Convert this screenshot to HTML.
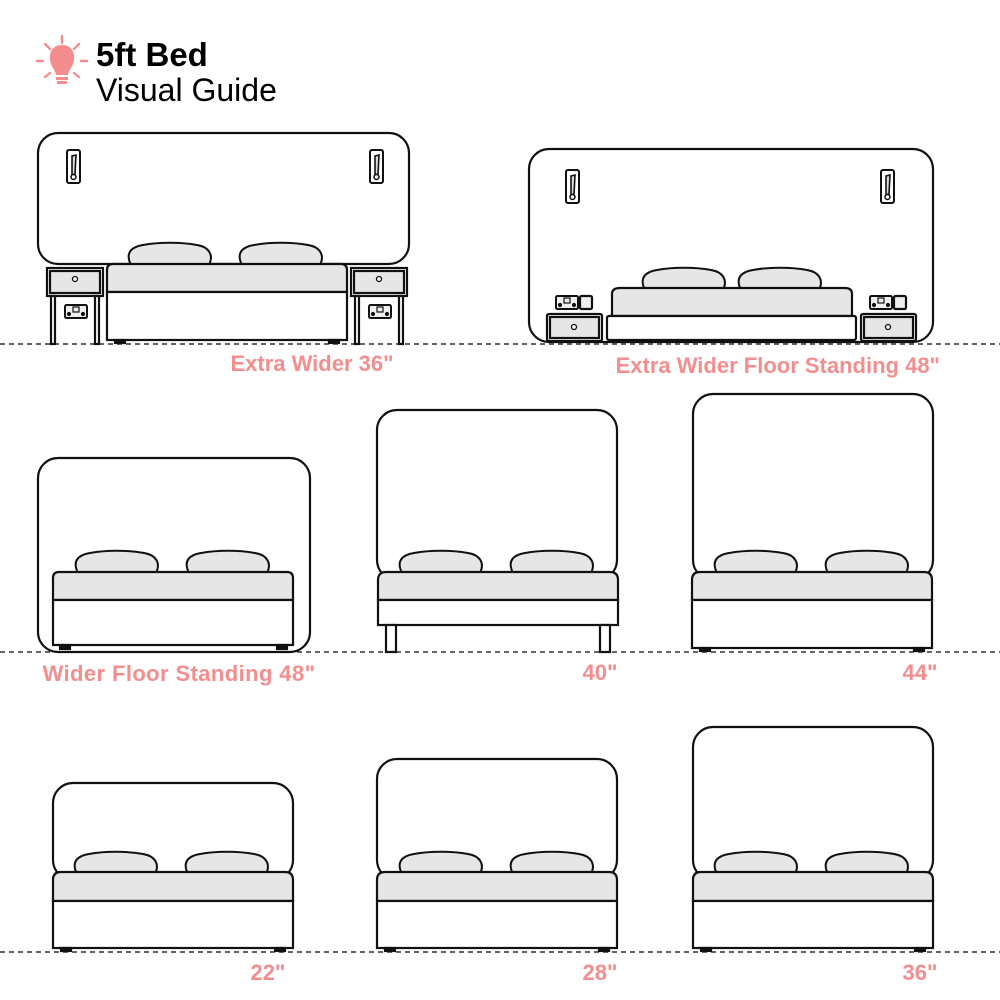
<!DOCTYPE html>
<html><head><meta charset="utf-8"><style>
html,body{margin:0;padding:0;background:#fff;}
svg{display:block}
text{font-family:"Liberation Sans",sans-serif;}
.l{fill:#f48e8e;font-size:22px;font-weight:bold;}
</style></head><body>
<svg width="1000" height="1000" viewBox="0 0 1000 1000" xmlns="http://www.w3.org/2000/svg">
<defs>
<g id="pil"><path d="M2 22 C-4 10 2 4 14 2 C30 -1 52 -1 68 2 C80 4 85 12 80 22 Z" fill="#e6e6e6" stroke="#111" stroke-width="2"/></g>
<g id="sock"><rect x="0" y="0" width="22" height="13" rx="1.5" fill="#eee" stroke="#111" stroke-width="2"/><rect x="8" y="2" width="6" height="5" fill="none" stroke="#111" stroke-width="1.2"/><circle cx="4" cy="9" r="1" fill="#111"/><circle cx="18" cy="9" r="1" fill="#111"/></g>
<g id="sw"><rect x="0" y="0" width="13" height="33" rx="2" fill="#fff" stroke="#111" stroke-width="2"/><path d="M5 6 L9 5 L8 24 L5 25 Z" fill="#ddd" stroke="#111" stroke-width="1.6"/><circle cx="6.5" cy="27" r="2.5" fill="#fff" stroke="#111" stroke-width="1.5"/></g>
</defs>
<!-- header -->
<g stroke="#f48e8e" stroke-width="2.4" stroke-linecap="round">
<line x1="62" y1="36" x2="62" y2="43"/><line x1="45" y1="44" x2="50" y2="49"/><line x1="79" y1="44" x2="74" y2="49"/>
<line x1="37" y1="61" x2="43" y2="61"/><line x1="81" y1="61" x2="87" y2="61"/><line x1="45" y1="77" x2="50" y2="73"/><line x1="79" y1="77" x2="74" y2="73"/>
</g>
<path d="M62 45 C52 45 49 53 50 60 C51 67 55 69 56 75 L68 75 C69 69 73 67 74 60 C75 53 72 45 62 45 Z" fill="#f48e8e"/>
<rect x="56" y="77" width="12" height="3" fill="#f48e8e"/><rect x="57" y="81" width="10" height="3" fill="#f48e8e"/>
<text x="96" y="66" font-size="33" font-weight="bold" fill="#000">5ft Bed</text>
<text x="96" y="101" font-size="32" fill="#000">Visual Guide</text>

<g stroke="#333" stroke-width="1.5" stroke-dasharray="5,4">
<line x1="0" y1="344" x2="1000" y2="344"/><line x1="0" y1="652" x2="1000" y2="652"/><line x1="0" y1="952" x2="1000" y2="952"/>
</g>

<g stroke="#111" stroke-width="2.2" fill="#fff">
<!-- Bed 1 -->
<rect x="38" y="133" width="371" height="131" rx="20"/>
<use href="#sw" x="67" y="150"/><use href="#sw" x="370" y="150"/>
<use href="#pil" x="129" y="243"/><use href="#pil" x="240" y="243"/>
<path d="M107 292 V270 Q107 264 113 264 H341 Q347 264 347 270 V292 Z" fill="#e6e6e6"/>
<rect x="107" y="292" width="240" height="48"/>
<rect x="115" y="340" width="10" height="3" fill="#111"/><rect x="329" y="340" width="10" height="3" fill="#111"/>
<rect x="47" y="268" width="56" height="28"/><rect x="50" y="271" width="50" height="22" fill="#e6e6e6"/><circle cx="75" cy="279" r="2.5" fill="#fff" stroke-width="1.3"/>
<rect x="51" y="296" width="4" height="48"/><rect x="95" y="296" width="4" height="48"/>
<rect x="351" y="268" width="56" height="28"/><rect x="354" y="271" width="50" height="22" fill="#e6e6e6"/><circle cx="379" cy="279" r="2.5" fill="#fff" stroke-width="1.3"/>
<rect x="355" y="296" width="4" height="48"/><rect x="399" y="296" width="4" height="48"/>
<use href="#sock" x="65" y="305"/><use href="#sock" x="369" y="305"/>

<!-- Bed 2 -->
<rect x="529" y="149" width="404" height="193" rx="20"/>
<use href="#sw" x="566" y="170"/><use href="#sw" x="881" y="170"/>
<use href="#pil" x="643" y="268"/><use href="#pil" x="739" y="268"/>
<path d="M612 316 V294 Q612 288 620 288 H845 Q852 288 852 294 V316 Z" fill="#e6e6e6"/>
<rect x="607" y="316" width="249" height="24" rx="2"/>
<rect x="547" y="314" width="55" height="27" rx="2"/><rect x="550" y="317" width="49" height="21" fill="#e6e6e6"/><circle cx="574" cy="327" r="2.5" fill="#fff" stroke-width="1.3"/>
<rect x="861" y="314" width="55" height="27" rx="2"/><rect x="864" y="317" width="49" height="21" fill="#e6e6e6"/><circle cx="888" cy="327" r="2.5" fill="#fff" stroke-width="1.3"/>
<use href="#sock" x="556" y="296"/><rect x="580" y="296" width="12" height="13" rx="1.5" fill="#eee"/>
<use href="#sock" x="870" y="296"/><rect x="894" y="296" width="12" height="13" rx="1.5" fill="#eee"/>

<!-- Row 2 A -->
<rect x="38" y="458" width="272" height="194" rx="20"/>
<use href="#pil" x="76" y="551"/><use href="#pil" x="187" y="551"/>
<path d="M53 600 V578 Q53 572 59 572 H287 Q293 572 293 578 V600 Z" fill="#e6e6e6"/>
<rect x="53" y="600" width="240" height="45"/>
<rect x="60" y="645" width="10" height="4" fill="#111"/><rect x="277" y="645" width="10" height="4" fill="#111"/>

<!-- Row 2 B -->
<rect x="377" y="410" width="240" height="170" rx="20"/>
<use href="#pil" x="400" y="551"/><use href="#pil" x="511" y="551"/>
<path d="M378 600 V580 Q378 572 386 572 H610 Q618 572 618 580 V600 Z" fill="#e6e6e6"/>
<rect x="378" y="600" width="240" height="25"/>
<rect x="386" y="625" width="10" height="27"/><rect x="600" y="625" width="10" height="27"/>

<!-- Row 2 C -->
<rect x="693" y="394" width="240" height="186" rx="20"/>
<use href="#pil" x="715" y="551"/><use href="#pil" x="826" y="551"/>
<path d="M692 600 V580 Q692 572 700 572 H924 Q932 572 932 580 V600 Z" fill="#e6e6e6"/>
<rect x="692" y="600" width="240" height="48"/>
<rect x="700" y="648" width="10" height="3" fill="#111"/><rect x="914" y="648" width="10" height="3" fill="#111"/>

<!-- Row 3 A -->
<rect x="53" y="783" width="240" height="97" rx="20"/>
<use href="#pil" x="75" y="852"/><use href="#pil" x="186" y="852"/>
<path d="M53 901 V880 Q53 872 61 872 H285 Q293 872 293 880 V901 Z" fill="#e6e6e6"/>
<rect x="53" y="901" width="240" height="47"/>
<rect x="61" y="948" width="10" height="3" fill="#111"/><rect x="275" y="948" width="10" height="3" fill="#111"/>

<!-- Row 3 B -->
<rect x="377" y="759" width="240" height="121" rx="20"/>
<use href="#pil" x="400" y="852"/><use href="#pil" x="511" y="852"/>
<path d="M377 901 V880 Q377 872 385 872 H609 Q617 872 617 880 V901 Z" fill="#e6e6e6"/>
<rect x="377" y="901" width="240" height="47"/>
<rect x="385" y="948" width="10" height="3" fill="#111"/><rect x="599" y="948" width="10" height="3" fill="#111"/>

<!-- Row 3 C -->
<rect x="693" y="727" width="240" height="153" rx="20"/>
<use href="#pil" x="715" y="852"/><use href="#pil" x="826" y="852"/>
<path d="M693 901 V880 Q693 872 701 872 H925 Q933 872 933 880 V901 Z" fill="#e6e6e6"/>
<rect x="693" y="901" width="240" height="47"/>
<rect x="701" y="948" width="10" height="3" fill="#111"/><rect x="915" y="948" width="10" height="3" fill="#111"/>
</g>

<text class="l" x="312" y="371" text-anchor="middle">Extra Wider 36"</text>
<text class="l" x="940" y="373" text-anchor="end">Extra Wider Floor Standing  48"</text>
<text class="l" x="179" y="681" text-anchor="middle" letter-spacing="0.4">Wider Floor Standing 48"</text>
<text class="l" x="600" y="680" text-anchor="middle">40"</text>
<text class="l" x="920" y="680" text-anchor="middle">44"</text>
<text class="l" x="268" y="980" text-anchor="middle">22"</text>
<text class="l" x="600" y="980" text-anchor="middle">28"</text>
<text class="l" x="920" y="980" text-anchor="middle">36"</text>
</svg>
</body></html>
